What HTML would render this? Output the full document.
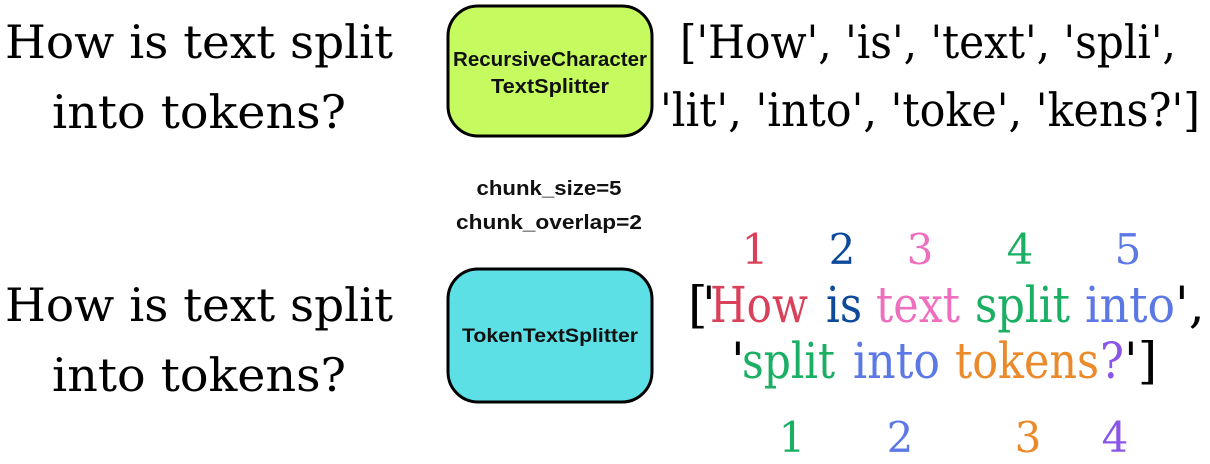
<!DOCTYPE html>
<html><head><meta charset="utf-8"><style>
html,body{margin:0;padding:0;background:#fff;width:1210px;height:464px;overflow:hidden}
svg{display:block}
.s{font-family:"DejaVu Serif","Liberation Serif",serif;font-size:46px;fill:#000}
.b{font-family:"Liberation Sans",sans-serif;font-weight:bold;fill:#111}
</style></head><body>
<svg width="1210" height="464" viewBox="0 0 1210 464">
<text class="s" x="5" y="58" textLength="388" lengthAdjust="spacingAndGlyphs">How is text split</text>
<text class="s" x="52" y="128" textLength="294" lengthAdjust="spacingAndGlyphs">into tokens?</text>
<text class="s" x="5" y="321" textLength="388" lengthAdjust="spacingAndGlyphs">How is text split</text>
<text class="s" x="52" y="391" textLength="294" lengthAdjust="spacingAndGlyphs">into tokens?</text>

<rect x="448" y="6" width="204" height="130" rx="30" fill="#c5fb5f" stroke="#000" stroke-width="3"/>
<text class="b" x="550" y="66" style="font-size:20px" text-anchor="middle" textLength="194" lengthAdjust="spacingAndGlyphs">RecursiveCharacter</text>
<text class="b" x="550" y="93" style="font-size:20px" text-anchor="middle" textLength="118" lengthAdjust="spacingAndGlyphs">TextSplitter</text>
<rect x="448" y="269" width="204" height="133" rx="30" fill="#5ce0e6" stroke="#000" stroke-width="3"/>
<text class="b" x="550" y="342" style="font-size:19px" text-anchor="middle" textLength="176" lengthAdjust="spacingAndGlyphs">TokenTextSplitter</text>

<text class="b" x="549" y="195" style="font-size:20px" text-anchor="middle" textLength="145" lengthAdjust="spacingAndGlyphs">chunk_size=5</text>
<text class="b" x="549" y="229" style="font-size:20px" text-anchor="middle" textLength="186" lengthAdjust="spacingAndGlyphs">chunk_overlap=2</text>

<text class="s" x="680" y="58" textLength="496" lengthAdjust="spacingAndGlyphs">['How', 'is', 'text', 'spli',</text>
<text class="s" x="660" y="126" textLength="540" lengthAdjust="spacingAndGlyphs">'lit', 'into', 'toke', 'kens?']</text>

<g class="s" text-anchor="middle">
<text x="755" y="264" fill="#d9405a" style="font-size:42px">1</text>
<text x="842" y="264" fill="#0e4a9a" style="font-size:42px">2</text>
<text x="920" y="264" fill="#ee6fbd" style="font-size:42px">3</text>
<text x="1020" y="264" fill="#1aaf62" style="font-size:42px">4</text>
<text x="1128" y="264" fill="#5b78e5" style="font-size:42px">5</text>
<text x="792" y="452" fill="#1aaf62" style="font-size:42px">1</text>
<text x="900" y="452" fill="#5b78e5" style="font-size:42px">2</text>
<text x="1028" y="452" fill="#ea8a2a" style="font-size:42px">3</text>
<text x="1115" y="452" fill="#8b55e8" style="font-size:42px">4</text>
</g>

<g class="s">
<text x="688" y="322" style="font-size:50px">[</text>
<text x="702" y="322" style="font-size:50px">'</text>
<text x="710" y="322" style="font-size:50px" fill="#d9405a" textLength="98" lengthAdjust="spacingAndGlyphs">How</text>
<text x="826" y="322" style="font-size:50px" fill="#0e4a9a" textLength="36" lengthAdjust="spacingAndGlyphs">is</text>
<text x="876" y="322" style="font-size:50px" fill="#ee6fbd" textLength="84" lengthAdjust="spacingAndGlyphs">text</text>
<text x="975" y="322" style="font-size:50px" fill="#1aaf62" textLength="95" lengthAdjust="spacingAndGlyphs">split</text>
<text x="1085" y="322" style="font-size:50px" fill="#5b78e5" textLength="90" lengthAdjust="spacingAndGlyphs">into</text>
<text x="1175" y="322" style="font-size:50px">',</text>
<text x="731" y="378" style="font-size:50px">'</text>
<text x="742" y="378" style="font-size:50px" fill="#1aaf62" textLength="93" lengthAdjust="spacingAndGlyphs">split</text>
<text x="853" y="378" style="font-size:50px" fill="#5b78e5" textLength="87" lengthAdjust="spacingAndGlyphs">into</text>
<text x="955" y="378" style="font-size:50px" fill="#ea8a2a" textLength="144" lengthAdjust="spacingAndGlyphs">tokens</text>
<text x="1100" y="378" style="font-size:50px" fill="#8b55e8" textLength="24" lengthAdjust="spacingAndGlyphs">?</text>
<text x="1124" y="378" style="font-size:50px">']</text>
</g>
</svg>
</body></html>
